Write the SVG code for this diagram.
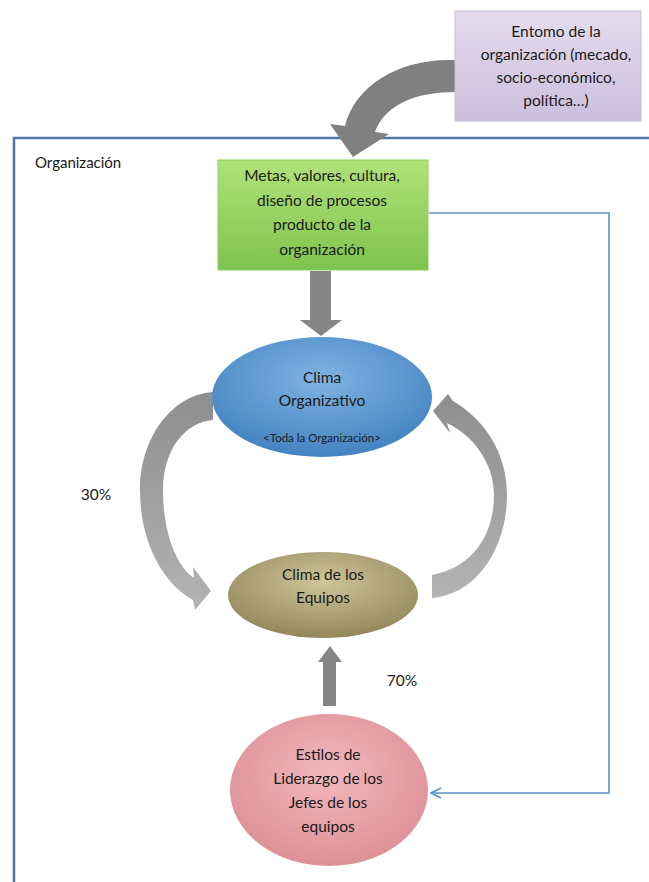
<svg xmlns="http://www.w3.org/2000/svg" width="649" height="882" viewBox="0 0 649 882">
<style>
  .t{font-family:Lato,"Noto Sans","Liberation Sans",sans-serif;font-size:15.5px;fill:#1a1a1a;text-anchor:middle}
  .s{font-size:11.5px}
  .l{text-anchor:start}
</style>
<defs>
  <linearGradient id="gPur" x1="0" y1="0" x2="0" y2="1"><stop offset="0" stop-color="#e4dcee"/><stop offset="1" stop-color="#cabfdb"/></linearGradient>
  <linearGradient id="gGrn" x1="0" y1="0" x2="0" y2="1"><stop offset="0" stop-color="#b0e27a"/><stop offset="1" stop-color="#7fc34d"/></linearGradient>
  <radialGradient id="gBlu" cx="0.5" cy="0.35" r="0.7"><stop offset="0" stop-color="#7fb3e2"/><stop offset="1" stop-color="#3f7fbf"/></radialGradient>
  <radialGradient id="gOli" cx="0.5" cy="0.35" r="0.7"><stop offset="0" stop-color="#cfc59a"/><stop offset="1" stop-color="#8f8257"/></radialGradient>
  <radialGradient id="gPnk" cx="0.5" cy="0.4" r="0.7"><stop offset="0" stop-color="#f2b8bc"/><stop offset="1" stop-color="#d98a90"/></radialGradient>
  <linearGradient id="gArc" x1="0" y1="0" x2="0" y2="1"><stop offset="0" stop-color="#8e8e8e"/><stop offset="1" stop-color="#b3b3b3"/></linearGradient>
  <marker id="open" markerWidth="12" markerHeight="12" refX="11" refY="6" orient="auto" markerUnits="userSpaceOnUse">
    <path d="M1,1 L11,6 L1,11" fill="none" stroke="#5b93c7" stroke-width="1.6"/>
  </marker>
</defs>

<g id="frame">
  <path d="M14,882 V138 H649" fill="none" stroke="#4d77a6" stroke-width="2.5"/>
  <text class="t l" x="35" y="168" style="font-size:15px">Organización</text>
</g>

<g id="connectors">
  <path d="M455,60 C400,58 355,85 345,126 L330,124 L353,157 L389,134 L375,132 C385,105 415,92 455,92 Z" fill="#808080"/>
  <path d="M310,271 H331 V320 H342 L321,336 L300,320 H310 Z" fill="#868686"/>
  <path d="M213,392 C170,395 140,440 140,490 C140,545 165,585 193,600 L195,610 L211,591 L193,567 L194,578 C175,565 163,530 163,490 C163,450 185,422 213,420 Z" fill="url(#gArc)"/>
  <path d="M432,598 C475,595 507,550 507,495 C507,450 482,418 453,401 L448,394 L433,411 L450,433 L447,423 C472,435 494,462 494,495 C494,538 470,568 432,575 Z" fill="url(#gArc)"/>
  <path d="M323,706 V662 H318 L330,646 L342,662 H336 V706 Z" fill="#868686"/>
  <path d="M429,213 H609 V793 H431" fill="none" stroke="#5b93c7" stroke-width="1.6" marker-end="url(#open)"/>
</g>

<g id="entorno">
  <rect x="455" y="11" width="186" height="110" fill="url(#gPur)" stroke="#c8bdd8" stroke-width="1"/>
  <text class="t" x="556" y="37">Entomo de la</text>
  <text class="t" x="556" y="60">organización (mecado,</text>
  <text class="t" x="556" y="83">socio-económico,</text>
  <text class="t" x="556" y="106">política…)</text>
</g>

<g id="metas">
  <rect x="218" y="160" width="210" height="110" fill="url(#gGrn)" stroke="#8ccf5b" stroke-width="1"/>
  <text class="t" x="322" y="181">Metas, valores, cultura,</text>
  <text class="t" x="322" y="206">diseño de procesos</text>
  <text class="t" x="322" y="230">producto de la</text>
  <text class="t" x="322" y="255">organización</text>
</g>

<g id="clima-org">
  <ellipse cx="322" cy="397" rx="110" ry="60" fill="url(#gBlu)"/>
  <text class="t" x="322" y="383">Clima</text>
  <text class="t" x="322" y="406">Organizativo</text>
  <text class="t s" x="322" y="442">&lt;Toda la Organización&gt;</text>
</g>

<g id="clima-equipos">
  <ellipse cx="323" cy="595" rx="95" ry="43" fill="url(#gOli)"/>
  <text class="t" x="323" y="580">Clima de los</text>
  <text class="t" x="323" y="603">Equipos</text>
</g>

<g id="estilos">
  <ellipse cx="329" cy="790" rx="99" ry="76" fill="url(#gPnk)"/>
  <text class="t" x="328" y="760">Estilos de</text>
  <text class="t" x="328" y="784">Liderazgo de los</text>
  <text class="t" x="328" y="808">Jefes de los</text>
  <text class="t" x="328" y="832">equipos</text>
</g>

<g id="labels">
  <text class="t" x="96" y="500">30%</text>
  <text class="t" x="402" y="686">70%</text>
</g>
</svg>
